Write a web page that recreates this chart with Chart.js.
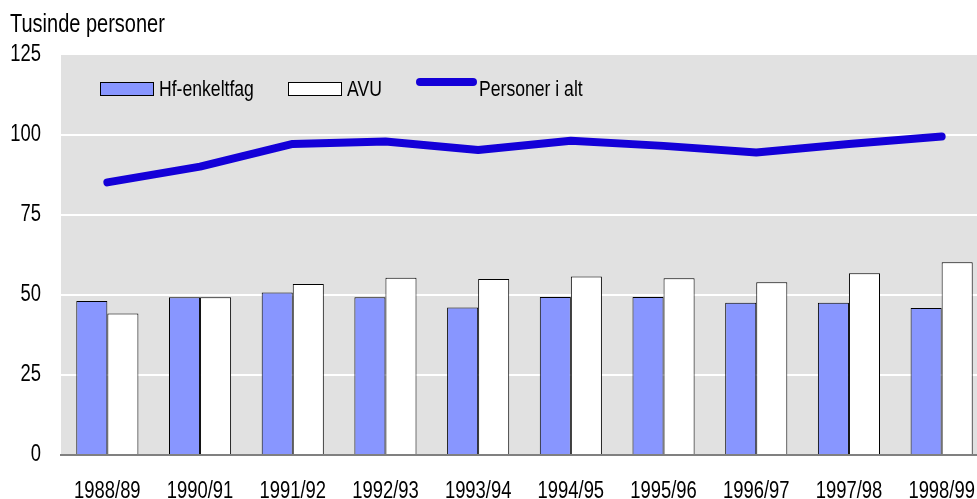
<!DOCTYPE html>
<html>
<head>
<meta charset="utf-8">
<script src="https://cdn.jsdelivr.net/npm/chart.js@4/dist/chart.umd.min.js"></script>
<style>
  html, body { margin: 0; padding: 0; background: #fff; overflow: hidden; }
  #wrap { width: 990px; height: 499px; }
</style>
</head>
<body>
<div id="wrap"><canvas id="chart"></canvas></div>
<script>
// data
const years = ['1988/89', '1990/91', '1991/92', '1992/93', '1993/94', '1994/95', '1995/96', '1996/97', '1997/98', '1998/99'];
const hfEnkeltfag = [48.1, 49.3, 50.8, 49.3, 46.1, 49.4, 49.4, 47.6, 47.6, 45.9];
const avu = [44.2, 49.3, 53.4, 55.4, 55.0, 55.8, 55.2, 54.0, 56.8, 60.2];
const personerIAlt = [85.2, 90.1, 97.2, 98.0, 95.3, 98.2, 96.6, 94.5, 97.2, 99.5];
const yTicks = [0, 25, 50, 75, 100, 125];

const FONT = "'Liberation Sans', Arial, sans-serif";
const NARROW = 0.8;   // the original uses a narrow face
const BLUE = '#8896ff';
const LINE = '#1400d8';

// draw text squeezed horizontally, like Arial Narrow
function narrowText(ctx, text, x, y, size, align) {
    ctx.save();
    ctx.font = size + 'px ' + FONT;
    ctx.textBaseline = 'alphabetic';
    ctx.textAlign = 'left';
    const w = ctx.measureText(text).width * NARROW;
    let left = x;
    if (align === 'center') left = x - w / 2;
    if (align === 'right') left = x - w;
    ctx.translate(left, y);
    ctx.scale(NARROW, 1);
    ctx.fillStyle = '#000';
    ctx.fillText(text, 0, 0);
    ctx.restore();
}

// grey plot background
const plotBg = {
    id: 'plotBg',
    beforeDraw(chart) {
        const { ctx, chartArea: a } = chart;
        ctx.save();
        ctx.fillStyle = '#e1e1e1';
        ctx.fillRect(a.left, a.top, a.right - a.left, a.bottom - a.top);
        ctx.restore();
    }
};

// axis labels, title and legend
const extras = {
    id: 'extras',
    afterDraw(chart) {
        const { ctx, scales } = chart;
        narrowText(ctx, 'Tusinde personer', 10, 32, 25, 'left');

        yTicks.forEach(v => {
            narrowText(ctx, String(v), 41, scales.y.getPixelForValue(v) + 6, 23, 'right');
        });
        chart.data.labels.forEach((lab, i) => {
            narrowText(ctx, lab, scales.x.getPixelForTick(i), 498, 23, 'center');
        });

        const byLabel = name => chart.data.datasets.find(d => d.label === name);
        ctx.save();
        ctx.lineWidth = 1;
        ctx.strokeStyle = '#000';
        ctx.fillStyle = byLabel('Hf-enkeltfag').backgroundColor;
        ctx.fillRect(100.5, 82.5, 53, 13);
        ctx.strokeRect(100.5, 82.5, 53, 13);
        ctx.fillStyle = byLabel('AVU').backgroundColor;
        ctx.fillRect(288.5, 82.5, 53, 13);
        ctx.strokeRect(288.5, 82.5, 53, 13);
        ctx.strokeStyle = byLabel('Personer i alt').borderColor;
        ctx.lineWidth = 8;
        ctx.lineCap = 'round';
        ctx.beginPath();
        ctx.moveTo(420, 82);
        ctx.lineTo(473, 82);
        ctx.stroke();
        ctx.restore();
        narrowText(ctx, 'Hf-enkeltfag', 159, 96, 22, 'left');
        narrowText(ctx, 'AVU', 347, 96, 22, 'left');
        narrowText(ctx, 'Personer i alt', 479, 96, 22, 'left');
    }
};

new Chart(document.getElementById('chart'), {
    data: {
        labels: years,
        datasets: [
            {
                type: 'line',
                label: 'Personer i alt',
                data: personerIAlt,
                borderColor: LINE,
                borderWidth: 8,
                borderCapStyle: 'round',
                borderJoinStyle: 'round',
                pointRadius: 0,
                tension: 0,
                order: 0
            },
            {
                type: 'bar',
                label: 'Hf-enkeltfag',
                data: hfEnkeltfag,
                backgroundColor: BLUE,
                borderColor: '#000',
                borderWidth: 1,
                barPercentage: 1,
                categoryPercentage: 0.67,
                order: 1
            },
            {
                type: 'bar',
                label: 'AVU',
                data: avu,
                backgroundColor: '#fff',
                borderColor: '#000',
                borderWidth: 1,
                barPercentage: 1,
                categoryPercentage: 0.67,
                order: 1
            }
        ]
    },
    options: {
        responsive: true,
        maintainAspectRatio: false,
        animation: false,
        layout: { padding: { top: 55, right: 2, left: 0, bottom: 0 } },
        plugins: {
            legend: { display: false },
            tooltip: { enabled: false }
        },
        scales: {
            x: {
                grid: { display: false, drawTicks: false },
                border: { display: true, color: '#808080', width: 2 },
                ticks: { display: false },
                afterFit(scale) { scale.height = 44; }
            },
            y: {
                min: 0,
                max: 125,
                afterBuildTicks(scale) { scale.ticks = yTicks.map(v => ({ value: v })); },
                grid: {
                    drawTicks: false,
                    color: ctx => (ctx.tick.value === 0 || ctx.tick.value === 125) ? 'rgba(0,0,0,0)' : '#fff',
                    lineWidth: 2
                },
                border: { display: false },
                ticks: { display: false },
                afterFit(scale) { scale.width = 61; }
            }
        }
    },
    plugins: [plotBg, extras]
});
</script>
</body>
</html>
